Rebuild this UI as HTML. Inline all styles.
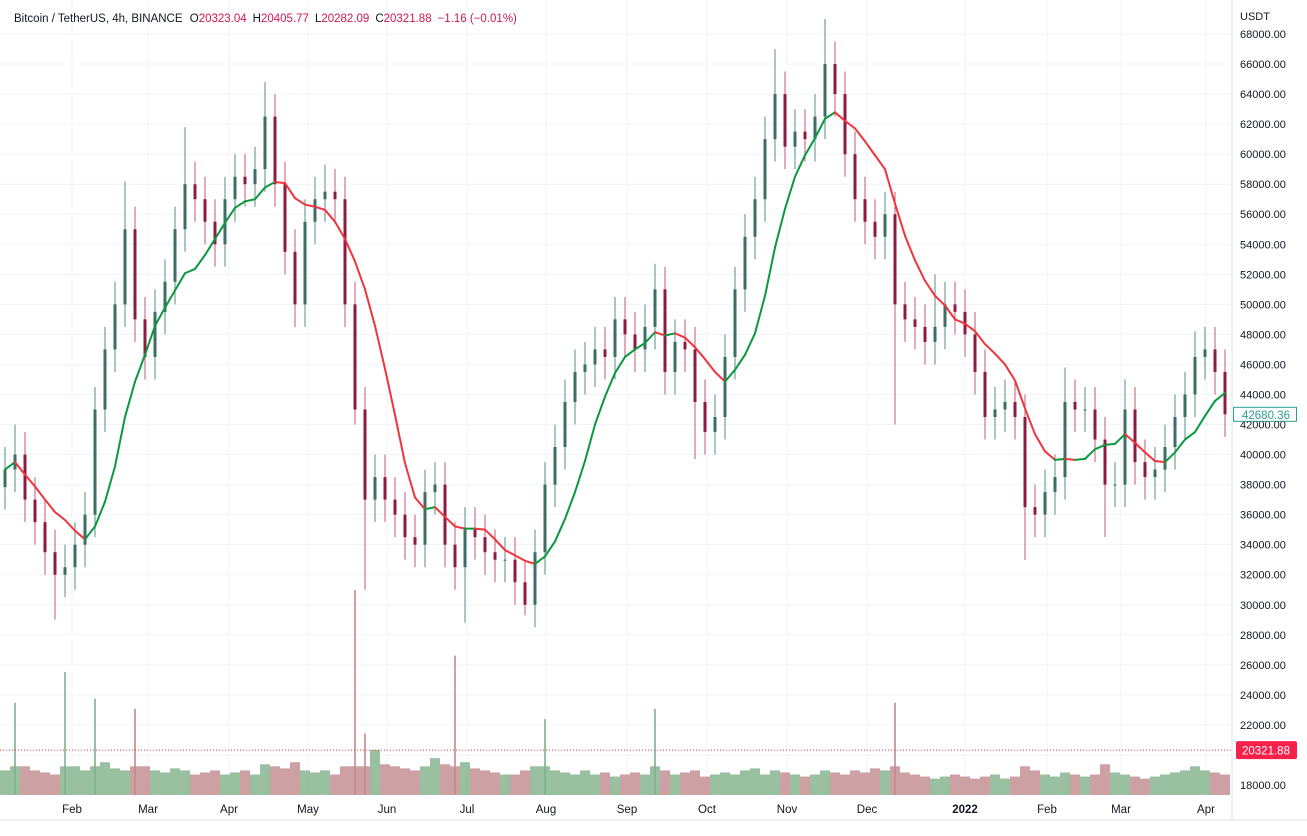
<!DOCTYPE html>
<html><head><meta charset="utf-8"><style>
html,body{margin:0;padding:0;background:#fff;}
body{width:1307px;height:831px;overflow:hidden;font-family:"Liberation Sans",sans-serif;}
svg text{font-family:"Liberation Sans",sans-serif;}
</style></head><body>
<svg id="chart" width="1307" height="831" xmlns="http://www.w3.org/2000/svg">
<g id="grid"></g>
<g id="vol"></g>
<g id="candles"></g>
<g id="ma"></g>
<g id="axis"></g>
<g id="taxis"></g>
<line x1="0" y1="820" x2="1307" y2="820" stroke="#e0e3eb"/>
<text x="14" y="22" font-size="11.5" fill="#131722">Bitcoin / TetherUS, 4h, BINANCE <tspan fill="#131722" dx="4">O</tspan><tspan fill="#d0174f">20323.04</tspan><tspan dx="6">H</tspan><tspan fill="#d0174f">20405.77</tspan><tspan dx="6">L</tspan><tspan fill="#d0174f">20282.09</tspan><tspan dx="6">C</tspan><tspan fill="#d0174f">20321.88</tspan><tspan dx="6" fill="#d0174f">−1.16 (−0.01%)</tspan></text>
<text x="1240" y="20" font-size="11" fill="#131722">USDT</text>
</svg>
<script>
const closes=[39000,40000,37000,35500,33500,32000,32500,34000,36000,43000,47000,50000,55000,49000,46500,49500,51500,55000,58000,57000,55500,54000,57000,58500,58000,59000,62500,58000,53500,50000,55500,57000,57500,57000,50000,43000,37000,38500,37000,36000,34500,34000,37500,38000,34000,32500,35000,34500,33500,33000,33000,31500,30000,33500,38000,40500,43500,45500,46000,47000,46500,49000,48000,47000,48500,51000,45500,47500,47000,43500,41500,42500,46500,51000,54500,57000,61000,64000,60500,61500,61000,62500,66000,64000,60000,57000,55500,54500,56000,50000,49000,48500,47500,48500,50000,49500,48000,45500,42500,43000,43500,42500,36500,36000,37500,38500,43500,43000,43000,41000,38000,38000,43000,39500,38500,39000,40500,42500,44000,46500,47000,45500,42680];
const spikeHighs=[[1,42000],[12,58200],[18,61800],[26,64800],[32,59300],[65,52700],[77,67000],[82,69000],[93,52000],[106,45800],[112,45000],[119,48200]];
const spikeLows=[[5,29000],[35,42000],[36,31000],[46,28800],[52,29300],[69,39700],[89,42000],[102,33000],[110,34500]];
const volumes=[12,45,14,12,11,10,60,14,12,47,16,13,12,42,14,12,11,13,12,10,11,12,10,11,12,10,15,14,13,16,12,11,12,10,14,100,30,22,15,14,13,12,14,18,15,68,16,13,12,11,10,10,12,14,37,12,11,10,12,10,11,9,10,11,10,42,12,10,11,12,9,10,11,10,12,13,10,12,11,10,9,10,12,11,10,12,11,13,12,45,11,10,9,8,9,10,9,8,9,10,8,9,14,12,10,9,11,10,9,10,15,11,10,9,8,9,10,11,12,14,12,11,10];
const priceTicks=[68000,66000,64000,62000,60000,58000,56000,54000,52000,50000,48000,46000,44000,42000,40000,38000,36000,34000,32000,30000,28000,26000,24000,22000,18000];
const monthLabels=["Feb","Mar","Apr","May","Jun","Jul","Aug","Sep","Oct","Nov","Dec","2022","Feb","Mar","Apr"];
const monthIdx=[6.7,14.3,22.4,30.3,38.2,46.2,54.1,62.2,70.2,78.2,86.2,96,104.2,111.6,120.1];
const lastClose=42680.36, currentPrice=20321.88;

const NS="http://www.w3.org/2000/svg";
const plotR=1232, plotB=795;
const y=p=>34+(68000-p)*0.01502;
const x=i=>5+i*10;
const vy=v=>plotB-v*2.05;
function mk(tag,attrs,parent){const e=document.createElementNS(NS,tag);for(const k in attrs)e.setAttribute(k,attrs[k]);parent.appendChild(e);return e;}
const G=id=>document.getElementById(id);

priceTicks.concat([20000]).forEach(p=>{
  const l=mk('line',{x1:0,x2:plotR,y1:y(p),y2:y(p),stroke:'#f0f3fa'},G('grid'));
  
  
});
monthIdx.forEach(m=>{
  const l=mk('line',{x1:x(m),x2:x(m),y1:0,y2:plotB,stroke:'#f0f3fa'},G('grid'));
  
  
});
mk('line',{x1:plotR,x2:plotR,y1:0,y2:820,stroke:'#e0e3eb'},G('grid'));

volumes.forEach((v,i)=>{
  const up=i===0||closes[i]>=closes[i-1];
  const big=v>25;
  const r=mk('rect',{x:big?x(i)-1:x(i)-5,y:vy(v),width:big?2:10,height:plotB-vy(v),fill:up?'#7fb08a':'#c08a8c','fill-opacity':0.8},G('vol'));
  
  
  if(big){
    const b=mk('rect',{x:x(i)-5,y:vy(14),width:10,height:plotB-vy(14),fill:up?'#7fb08a':'#c08a8c','fill-opacity':0.8},G('vol'));
    
    
  }
});

const hiMap={},loMap={};
spikeHighs.forEach(([i,p])=>hiMap[i]=p);
spikeLows.forEach(([i,p])=>loMap[i]=p);
closes.forEach((c,i)=>{
  const o=i===0?c*0.97:closes[i-1];
  const up=c>=o;
  const hi=hiMap[i]||Math.max(o,c)+1500, lo=loMap[i]||Math.min(o,c)-1500;
  const col=up?'#3e6e66':'#8c1d40';
  const g=mk('g',{},G('candles'));
  
  
  mk('line',{x1:x(i),x2:x(i),y1:y(hi),y2:y(lo),stroke:up?'#5a8f86':'#c05a78','stroke-width':1},g);
  mk('rect',{x:x(i)-1.5,y:y(Math.max(o,c)),width:3,height:Math.max(1,Math.abs(y(o)-y(c))),fill:col},g);
});

const N=7;const ma=closes.map((c,i)=>{const s=closes.slice(Math.max(0,i-N+1),i+1);return s.reduce((a,b)=>a+b,0)/s.length;});
for(let i=1;i<ma.length;i++){
  const l=mk('line',{x1:x(i-1),y1:y(ma[i-1]),x2:x(i),y2:y(ma[i]),stroke:ma[i]>=ma[i-1]?'#089a3c':'#f0343e','stroke-width':2,'stroke-linecap':'round'},G('ma'));
  
  
}

priceTicks.forEach(p=>{
  const t=mk('text',{x:1240,y:y(p)+4,'font-size':11,fill:'#131722'},G('axis'));
  t.textContent=p.toFixed(2);
  
  
});
const cy=y(currentPrice);
mk('line',{x1:0,x2:plotR,y1:cy,y2:cy,stroke:'#f23645','stroke-dasharray':'1 2'},G('axis'));
const cr=mk('rect',{x:1236,y:cy-9,width:61,height:18,rx:2,fill:'#f7204a'},G('axis'));


const ct=mk('text',{x:1242,y:cy+4.5,'font-size':11.5,fill:'#fff'},G('axis'));ct.textContent=currentPrice.toFixed(2);
const ly=y(lastClose);
const lr=mk('rect',{x:1233.5,y:ly-7,width:63,height:14,fill:'#fff',stroke:'#2a9d8f'},G('axis'));


const lt=mk('text',{x:1242,y:ly+4.5,'font-size':11.5,fill:'#2a9d8f'},G('axis'));lt.textContent=lastClose.toFixed(2);

monthLabels.forEach((m,k)=>{
  const t=mk('text',{x:x(monthIdx[k]),y:813,'font-size':11.5,'text-anchor':'middle',fill:'#131722','font-weight':m==='2022'?'bold':'normal'},G('taxis'));
  t.textContent=m;
  
  
});
</script>
</body></html>
